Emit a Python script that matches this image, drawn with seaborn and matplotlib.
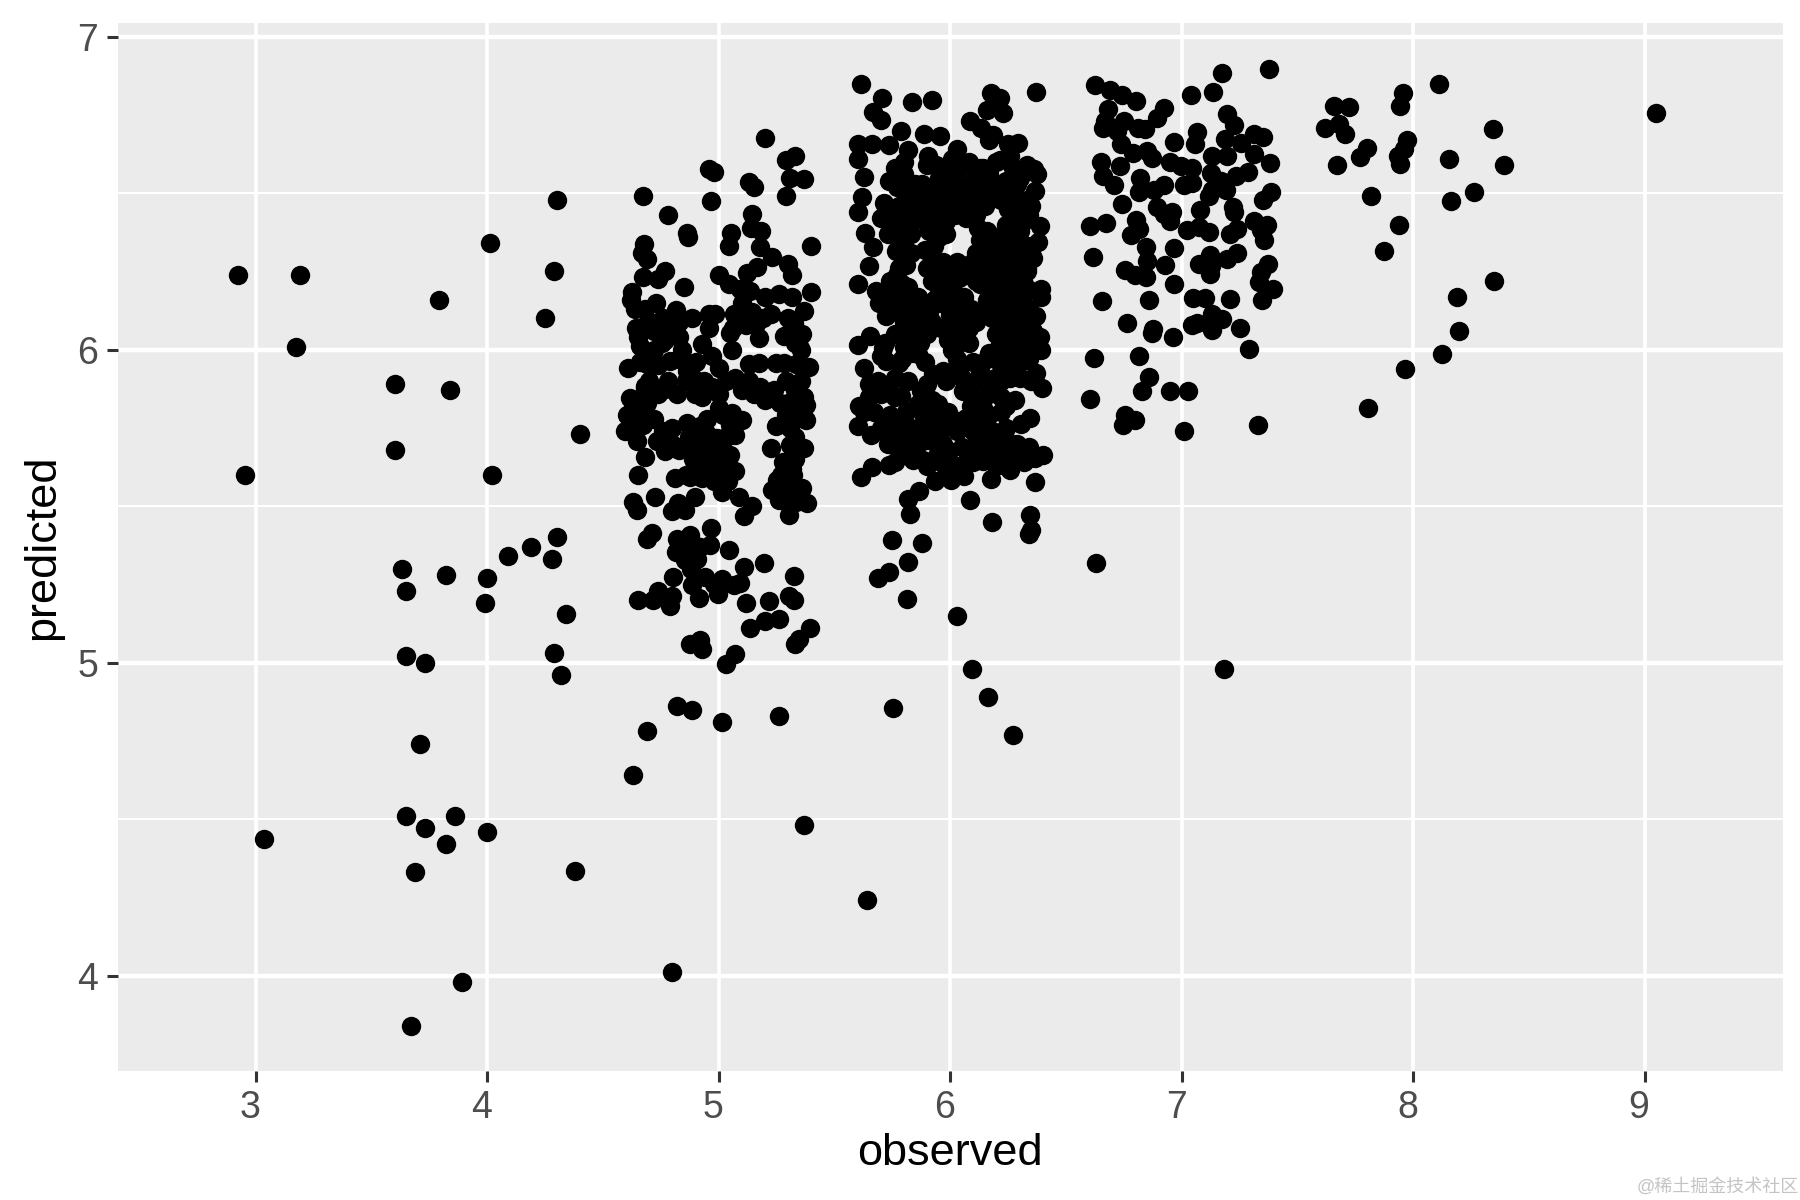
import matplotlib
matplotlib.use("Agg")
import matplotlib.pyplot as plt
import matplotlib.transforms as mtrans
import pandas as pd
import seaborn as sns

obs_low = [2.925, 3.19, 3.175, 2.955, 3.035, 3.60, 3.60, 3.79, 3.84, 3.63, 3.65, 3.82, 3.65, 3.73,
           3.71, 3.65, 3.73, 3.82, 3.86, 3.69, 3.89, 3.67, 4.01, 4.30, 4.29, 4.25, 4.02, 4.40,
           4.30, 4.19, 4.09, 4.28, 4.00, 3.99, 4.34, 4.29, 4.32, 4.00, 4.38]
pred_low = [6.24, 6.24, 6.01, 5.60, 4.435, 5.89, 5.68, 6.16, 5.87, 5.30, 5.23, 5.28, 5.02, 5.00,
            4.74, 4.51, 4.47, 4.42, 4.51, 4.33, 3.98, 3.84, 6.34, 6.48, 6.25, 6.10, 5.60, 5.73,
            5.40, 5.37, 5.34, 5.33, 5.27, 5.19, 5.155, 5.03, 4.96, 4.46, 4.335]

obs_stray = [4.80, 4.63, 4.69, 4.82, 4.885, 5.015, 5.26, 5.37, 5.64, 5.755, 6.03, 6.095, 6.165, 6.27, 7.185, 6.63]
pred_stray = [4.01, 4.64, 4.78, 4.86, 4.85, 4.81, 4.83, 4.48, 4.24, 4.855, 5.15, 4.98, 4.89, 4.77, 4.98, 5.32]

obs_five = [5.20, 5.33, 5.29, 5.31, 5.37, 5.29, 4.675, 4.78, 4.863, 4.867, 4.957, 4.978, 4.968, 5.13, 5.152,
            5.142, 5.14, 5.185, 5.055, 5.043, 5.397, 5.18, 5.23, 5.30, 5.318, 5.166, 5.123, 4.678, 4.67, 4.69,
            4.675, 4.77, 4.74, 4.851, 4.624, 4.62, 4.64, 4.73, 5.003, 5.043, 5.094, 5.137, 5.2, 5.26, 5.318,
            5.397, 5.37, 4.815, 4.884, 4.957, 4.986, 5.065, 5.145, 5.224, 5.325, 4.645, 4.695, 4.79, 4.96, 5.05,
            5.16, 5.173, 5.282, 4.66, 4.754, 4.84, 4.928, 4.97, 5.058, 5.347, 5.354, 5.39, 4.61, 4.69, 4.863,
            4.79, 5.13, 5.173, 5.246, 5.282, 5.332, 4.935, 5.0, 5.072, 4.68, 4.78, 5.354,
            4.682, 4.769, 4.899, 4.617, 4.603, 4.668, 4.595, 4.675, 4.646, 4.682, 4.65, 4.733, 4.769, 4.827, 4.798,
            4.863, 4.92, 5.0, 5.058, 4.928, 4.884, 4.993, 5.072, 5.10, 5.152, 5.2, 5.267, 5.376, 5.376, 5.246,
            5.31, 5.227, 5.31, 5.368, 5.318, 5.05, 5.014, 5.072, 4.928, 4.971, 4.899, 5.014, 4.928, 4.812, 4.877,
            5.014, 5.087, 5.145, 5.108, 5.253, 5.231, 5.282, 5.361, 5.332, 5.383, 5.306, 4.896, 4.725, 4.63, 4.649,
            4.824, 4.80, 4.855, 4.71, 4.69, 4.967, 4.877, 4.964, 4.819, 4.815, 4.92, 4.855, 4.906, 5.046, 5.108,
            5.194, 5.325, 4.802, 4.884, 4.939, 4.978, 5.014, 5.065, 5.094, 4.996, 4.916, 5.118, 5.217, 5.306, 5.325,
            4.737, 4.65, 4.715, 4.80, 4.79, 5.2, 5.26, 5.134, 5.393, 5.347, 5.33, 4.877, 4.92, 4.928, 5.072, 5.03]
pred_five = [6.677, 6.62, 6.607, 6.55, 6.544, 6.49, 6.49, 6.43, 6.372, 6.36, 6.578, 6.567, 6.474, 6.537, 6.52,
             6.434, 6.39, 6.378, 6.372, 6.33, 6.33, 6.327, 6.295, 6.273, 6.24, 6.265, 6.244, 6.338, 6.31, 6.29,
             6.233, 6.252, 6.225, 6.2, 6.186, 6.16, 6.13, 6.15, 6.24, 6.21, 6.193, 6.188, 6.167, 6.177, 6.167,
             6.186, 6.124, 6.126, 6.1, 6.113, 6.113, 6.113, 6.119, 6.113, 6.087, 6.07, 6.092, 6.07, 6.07, 6.054,
             6.081, 6.036, 6.044, 6.012, 6.022, 6.0, 6.017, 5.98, 6.0, 6.012, 6.0, 5.946, 5.942, 5.953, 5.932,
             5.964, 5.953, 5.958, 5.958, 5.958, 5.953, 5.90, 5.942, 5.91, 5.883, 5.90, 5.90,
             5.878, 5.873, 5.857, 5.846, 5.792, 5.814, 5.739, 5.76, 5.707, 5.658, 5.60, 5.707, 5.675, 5.68, 5.75,
             5.766, 5.755, 5.814, 5.798, 5.712, 5.717, 5.717, 5.728, 5.776, 5.857, 5.84, 5.83, 5.824, 5.776, 5.755,
             5.75, 5.685, 5.696, 5.685, 5.62, 5.664, 5.685, 5.612, 5.675, 5.648, 5.632, 5.61, 5.589, 5.591, 5.594,
             5.546, 5.53, 5.5, 5.47, 5.584, 5.551, 5.53, 5.557, 5.514, 5.509, 5.473, 5.53, 5.528, 5.512, 5.489,
             5.509, 5.484, 5.487, 5.415, 5.396, 5.431, 5.407, 5.375, 5.396, 5.353, 5.37, 5.327, 5.332, 5.359, 5.305,
             5.318, 5.278, 5.273, 5.249, 5.273, 5.252, 5.268, 5.248, 5.255, 5.22, 5.206, 5.19, 5.196, 5.212, 5.2,
             5.23, 5.20, 5.20, 5.212, 5.18, 5.134, 5.141, 5.11, 5.11, 5.075, 5.059, 5.059, 5.073, 5.043, 5.027, 4.995]

# points hidden inside the dense block of the five strip, estimated
obs_five_fill = [4.72, 4.77, 4.83, 4.70, 4.74, 4.83, 4.90, 4.66, 4.65, 4.72, 4.86,
                 4.74, 4.82, 4.89, 4.97, 5.03, 5.10, 5.13, 5.18, 5.24, 5.29, 5.33, 5.37, 5.30, 4.93, 5.0,
                 4.87, 4.91, 4.95, 4.95, 4.89, 4.95, 4.98, 5.03, 5.03, 4.86, 4.93, 4.98, 5.04, 5.05, 5.02, 4.76, 4.80, 4.86,
                 5.33, 5.33, 5.33, 5.27, 5.30, 5.26, 5.35, 5.29, 5.32, 5.28,
                 4.62, 4.66, 4.69, 4.66, 4.72,
                 5.10, 5.19, 5.12, 5.06, 4.83, 4.76, 4.75, 4.68, 5.30, 5.33, 5.36, 5.30,
                 4.88, 4.84, 4.86, 4.90, 4.89]
pred_five_fill = [6.00, 6.03, 6.04, 5.90, 5.95, 5.97, 5.96, 5.96, 6.04, 6.06, 5.90,
                  5.86, 5.86, 5.91, 5.88, 5.90, 5.87, 5.90, 5.88, 5.87, 5.90, 5.87, 5.85, 5.83, 5.85, 5.86,
                  5.72, 5.68, 5.73, 5.78, 5.65, 5.62, 5.68, 5.64, 5.72, 5.60, 5.62, 5.58, 5.58, 5.76, 5.79, 5.74, 5.70, 5.69,
                  5.65, 5.72, 5.78, 5.60, 5.55, 5.52, 5.80, 5.79, 5.60, 5.64,
                  5.80, 5.76, 5.83, 5.84, 5.78,
                  6.15, 6.10, 6.08, 6.07, 6.09, 6.10, 6.05, 6.13, 6.05, 6.02, 6.05, 6.10,
                  5.30, 5.37, 5.36, 5.35, 5.38]

obs_six_top = [5.617, 5.705, 5.665, 5.70, 5.834, 5.92, 5.788, 5.886, 5.957, 6.175, 6.217, 6.159, 6.228, 6.084, 6.134,
               6.185, 6.17, 6.293, 6.25, 6.257, 6.214, 6.03, 5.903, 6.373, 6.363, 6.377, 6.366, 6.34, 6.387, 6.38,
               6.358, 6.33, 6.394, 6.394, 6.373, 6.387, 6.394, 6.35, 5.60, 5.662, 5.60, 5.737, 5.816, 5.629, 5.737,
               5.618, 5.60, 5.715, 5.633, 5.665, 5.766, 5.65, 5.60, 5.68, 5.694, 5.722, 5.655, 5.60, 5.71]
pred_six_top = [6.85, 6.806, 6.76, 6.733, 6.793, 6.798, 6.70, 6.688, 6.682, 6.821, 6.806, 6.766, 6.758, 6.731, 6.707,
                6.685, 6.67, 6.66, 6.658, 6.62, 6.605, 6.642, 6.62, 6.824, 6.578, 6.562, 6.508, 6.466, 6.396, 6.343,
                6.294, 6.25, 6.193, 6.17, 6.107, 6.04, 6.0, 5.995, 6.658, 6.658, 6.61, 6.653, 6.637, 6.551, 6.54,
                6.487, 6.44, 6.47, 6.372, 6.327, 6.316, 6.268, 6.209, 6.187, 6.15, 6.107, 6.043, 6.016, 6.005]

obs_six_mid = [5.80, 5.94, 6.01, 6.08, 6.14,
               5.80, 5.88, 5.95, 6.03, 6.10, 6.17, 6.24, 6.30,
               5.83, 5.90, 5.98, 6.05, 6.12, 6.19, 6.27, 6.33,
               5.78, 5.85, 5.92, 5.99, 6.06, 6.11, 6.25, 6.31,
               5.70, 5.77, 5.84, 5.91, 5.98, 6.07, 6.12, 6.24, 6.32,
               5.73, 5.80, 5.95, 6.13, 6.19, 6.26, 6.33,
               5.83, 5.92, 5.97, 6.05, 6.10, 6.19, 6.25, 6.30,
               5.77, 5.93, 6.00, 6.07, 6.14, 6.20, 6.27,
               5.75, 5.82, 5.95, 6.01, 6.13, 6.20, 6.29, 6.34,
               5.76, 5.83, 5.89, 5.96, 6.03, 6.09, 6.19, 6.28, 6.34,
               5.80, 5.87, 5.92, 6.05, 6.11, 6.18, 6.25, 6.31,
               5.76, 5.84, 5.90, 5.99, 6.05, 6.20, 6.27, 6.33,
               5.70, 5.83, 6.01, 6.17, 6.24, 6.31]
pred_six_mid = [6.60, 6.59, 6.61, 6.60, 6.58,
                6.56, 6.53, 6.55, 6.57, 6.54, 6.56, 6.54, 6.55,
                6.49, 6.51, 6.50, 6.52, 6.49, 6.50, 6.51, 6.48,
                6.46, 6.44, 6.46, 6.45, 6.47, 6.43, 6.45, 6.44,
                6.42, 6.40, 6.41, 6.39, 6.41, 6.42, 6.39, 6.40, 6.41,
                6.37, 6.35, 6.36, 6.35, 6.36, 6.34, 6.33,
                6.31, 6.29, 6.28, 6.27, 6.28, 6.30, 6.28, 6.30,
                6.24, 6.23, 6.25, 6.24, 6.23, 6.24, 6.22,
                6.19, 6.20, 6.19, 6.20, 6.21, 6.19, 6.20, 6.19,
                6.15, 6.14, 6.13, 6.15, 6.14, 6.13, 6.14, 6.15, 6.13,
                6.09, 6.10, 6.09, 6.10, 6.09, 6.10, 6.09, 6.08,
                6.05, 6.04, 6.05, 6.03, 6.04, 6.05, 6.04, 6.05,
                5.98, 5.99, 6.00, 5.99, 5.98, 5.99]

# second pass over the six strip, the block is almost solid black there
obs_six_fill = [5.76, 5.90, 5.99, 6.06, 6.13, 6.20, 6.27, 6.33,
                5.77, 5.85, 5.92, 6.00, 6.07, 6.15, 6.21, 6.29,
                5.80, 5.87, 5.95, 6.02, 6.09, 6.15, 6.22, 6.29, 6.35,
                5.74, 5.81, 5.88, 5.95, 6.02, 6.09, 6.27, 6.34,
                5.76, 5.83, 5.91, 5.98, 6.16, 6.23, 6.30,
                5.80, 5.89, 5.93, 6.11, 6.16, 6.22, 6.28, 6.35,
                5.78, 5.81, 5.90, 5.96, 6.03, 6.09, 6.17, 6.23, 6.29, 6.33,
                5.74, 5.79, 5.92, 5.98, 6.04, 6.11, 6.17, 6.24, 6.32,
                5.73, 5.79, 5.86, 5.93, 5.99, 6.06, 6.16, 6.25, 6.31,
                5.77, 5.85, 5.91, 6.00, 6.07, 6.14, 6.21, 6.28,
                5.82, 5.88, 5.96, 6.02, 6.08, 6.22, 6.30, 6.36,
                5.72, 5.80, 5.87, 6.02, 6.08, 6.21, 6.28,
                5.79, 5.89, 6.03, 6.10, 6.16, 6.27, 6.34,
                5.69, 5.76, 5.82, 5.90, 5.98, 6.05, 6.11, 6.16, 6.22, 6.30, 6.35,
                5.65, 5.70, 5.76, 5.92, 6.10, 6.17, 6.22, 6.28,
                5.67, 5.74, 5.81, 5.92, 5.99, 6.17, 6.22,
                5.70, 5.78, 5.83, 5.90, 5.97, 6.03, 6.12, 6.18, 6.24,
                5.73, 5.77, 5.86, 5.90, 5.97, 6.05, 6.11, 6.24, 6.29, 6.34,
                5.76, 5.90, 5.96, 6.03, 6.10, 6.20, 6.32]
pred_six_fill = [6.58, 6.59, 6.57, 6.59, 6.58, 6.60, 6.58, 6.59,
                 6.52, 6.53, 6.52, 6.54, 6.52, 6.53, 6.52, 6.53,
                 6.47, 6.48, 6.47, 6.49, 6.48, 6.46, 6.48, 6.47, 6.46,
                 6.43, 6.42, 6.43, 6.42, 6.43, 6.44, 6.42, 6.43,
                 6.38, 6.37, 6.38, 6.37, 6.38, 6.37, 6.38,
                 6.33, 6.32, 6.33, 6.31, 6.33, 6.32, 6.33, 6.32,
                 6.26, 6.27, 6.26, 6.27, 6.28, 6.26, 6.27, 6.26, 6.27, 6.26,
                 6.22, 6.21, 6.22, 6.21, 6.23, 6.22, 6.21, 6.22, 6.21,
                 6.17, 6.16, 6.17, 6.16, 6.18, 6.17, 6.16, 6.17, 6.16,
                 6.12, 6.11, 6.12, 6.11, 6.12, 6.11, 6.12, 6.11,
                 6.07, 6.06, 6.07, 6.06, 6.07, 6.06, 6.07, 6.06,
                 6.02, 6.01, 6.02, 6.01, 6.02, 6.01, 6.02,
                 5.97, 5.96, 5.97, 5.96, 5.97, 5.96, 5.97,
                 5.90, 5.91, 5.90, 5.89, 5.90, 5.91, 5.90, 5.89, 5.90, 5.91, 5.90,
                 5.85, 5.86, 5.85, 5.84, 5.85, 5.86, 5.85, 5.84,
                 5.80, 5.79, 5.80, 5.79, 5.80, 5.79, 5.80,
                 5.75, 5.74, 5.75, 5.74, 5.75, 5.74, 5.75, 5.74, 5.75,
                 5.70, 5.69, 5.70, 5.71, 5.70, 5.69, 5.70, 5.71, 5.70, 5.69,
                 5.64, 5.63, 5.64, 5.63, 5.64, 5.63, 5.64]

obs_six_low = [5.629, 5.723, 5.78, 5.65, 5.723, 5.788, 5.607, 5.629, 5.603, 5.658, 5.723, 5.78, 5.874, 5.918, 5.882,
               5.86, 5.939, 5.83, 5.795, 5.838, 5.882, 5.946, 5.997, 5.98, 5.936, 6.004, 6.062, 5.737, 5.662, 5.614,
               5.867, 5.82, 5.827, 5.751, 5.879, 5.818, 5.734, 5.688, 5.814, 6.084, 6.18, 6.344, 6.351, 6.34, 6.24,
               6.344, 6.308, 6.366, 6.40, 6.366, 6.178, 6.207, 6.156, 6.272, 6.30, 6.257, 6.228, 6.077, 6.142, 6.142,
               6.098, 6.033, 6.055, 6.395, 6.373, 6.315, 6.257, 6.192, 6.127, 5.968, 6.04, 5.925, 6.214, 5.86, 6.105,
               6.09, 6.07, 5.954, 6.178, 6.214, 5.76, 5.86, 5.947]
pred_six_low = [5.942, 5.964, 5.958, 5.889, 5.884, 5.852, 5.82, 5.80, 5.756, 5.729, 5.735, 5.756, 5.868, 5.825, 5.793,
                5.745, 5.729, 5.708, 5.67, 5.649, 5.649, 5.67, 5.676, 5.623, 5.582, 5.585, 5.596, 5.631, 5.625, 5.594,
                5.548, 5.524, 5.475, 5.392, 5.383, 5.322, 5.29, 5.269, 5.204, 5.52, 5.451, 5.473, 5.425, 5.41, 5.82,
                5.783, 5.763, 5.578, 5.662, 5.655, 5.588, 5.724, 5.703, 5.676, 5.66, 5.617, 5.633, 5.655, 5.644, 5.815,
                5.74, 5.772, 5.868, 5.878, 5.926, 5.964, 5.91, 5.91, 5.932, 5.932, 5.932, 5.921, 5.958, 5.985, 5.793,
                5.82, 5.783, 5.788, 5.665, 5.686, 5.777, 5.825, 5.825]

obs_seven = [6.624, 6.69, 6.743, 6.805, 6.68, 6.923, 6.895, 6.75, 6.67, 6.66, 6.72, 6.81, 6.84, 6.74, 6.79, 6.85, 6.87,
             6.65, 6.735, 6.66, 6.71, 6.82, 6.815, 6.923, 6.88, 6.743, 6.95, 6.996, 7.046, 6.967, 7.068, 7.06, 7.042,
             7.136, 7.176, 7.377, 7.195, 7.227, 7.188, 7.195, 7.133, 7.256, 7.314, 7.35, 7.314, 7.383, 7.285, 7.237,
             7.126, 7.17, 7.01, 7.046, 7.133, 7.19, 7.118, 7.386, 7.353, 7.08, 7.22, 7.227, 6.894, 6.96, 6.923, 6.95,
             6.805, 6.815, 6.78, 6.675, 6.603, 7.025, 7.075, 7.118, 7.208, 7.24, 7.314, 7.371, 7.342, 7.354, 6.847,
             6.967, 6.616, 6.85, 6.93, 6.754, 6.80, 6.845, 6.967, 7.075, 7.123, 7.126, 7.122, 7.198, 7.24, 7.374, 7.342,
             7.335, 7.397, 7.347, 6.655, 6.858, 7.05, 7.10, 7.208, 6.764, 6.876, 6.873, 6.964, 7.046, 7.068, 7.133,
             7.176, 7.13, 7.251, 7.293, 6.62, 6.815, 6.861, 6.829, 6.952, 7.027, 6.605, 6.754, 6.797, 6.745, 7.01, 7.33]
pred_seven = [6.847, 6.83, 6.814, 6.796, 6.77, 6.774, 6.742, 6.73, 6.73, 6.71, 6.70, 6.71, 6.706, 6.656, 6.63, 6.634, 6.613,
              6.60, 6.586, 6.556, 6.527, 6.548, 6.505, 6.527, 6.51, 6.466, 6.60, 6.586, 6.58, 6.663, 6.696, 6.656, 6.815,
              6.825, 6.883, 6.898, 6.753, 6.717, 6.674, 6.618, 6.618, 6.661, 6.688, 6.68, 6.624, 6.597, 6.567, 6.556,
              6.565, 6.538, 6.527, 6.532, 6.51, 6.51, 6.49, 6.505, 6.48, 6.446, 6.457, 6.44, 6.457, 6.44, 6.435, 6.41,
              6.414, 6.387, 6.366, 6.405, 6.396, 6.382, 6.392, 6.376, 6.37, 6.387, 6.41, 6.40, 6.382, 6.35, 6.328,
              6.326, 6.296, 6.285, 6.27, 6.256, 6.24, 6.234, 6.21, 6.274, 6.304, 6.269, 6.242, 6.29, 6.31, 6.274, 6.247,
              6.218, 6.194, 6.16, 6.155, 6.16, 6.165, 6.165, 6.163, 6.086, 6.065, 6.054, 6.04, 6.08, 6.086, 6.115,
              6.097, 6.062, 6.068, 6.002, 5.973, 5.98, 5.914, 5.868, 5.868, 5.868, 5.844, 5.79, 5.774, 5.76, 5.74, 5.758]

obs_high = [7.62, 7.66, 7.725, 7.68, 7.705, 7.67, 7.77, 7.80, 7.82, 7.945, 7.955, 7.975, 7.96, 7.935, 7.945, 8.11, 8.155,
            8.345, 8.395, 8.265, 8.165, 7.94, 7.875, 8.35, 8.19, 8.2, 8.125, 7.965, 7.805, 9.05]
pred_high = [6.71, 6.78, 6.775, 6.72, 6.69, 6.59, 6.615, 6.645, 6.49, 6.78, 6.82, 6.67, 6.64, 6.62, 6.595, 6.85, 6.61,
             6.705, 6.59, 6.505, 6.475, 6.40, 6.315, 6.22, 6.17, 6.06, 5.985, 5.94, 5.815, 6.755]

x_ticks = [3, 4, 5, 6, 7, 8, 9]
y_ticks = [4, 5, 6, 7]
y_minor = [4.5, 5.5, 6.5]

df = pd.DataFrame({
    "observed": obs_low + obs_stray + obs_five + obs_five_fill + obs_six_top + obs_six_mid + obs_six_fill
                + obs_six_low + obs_seven + obs_high,
    "predicted": pred_low + pred_stray + pred_five + pred_five_fill + pred_six_top + pred_six_mid + pred_six_fill
                 + pred_six_low + pred_seven + pred_high,
})

sns.set_theme(style="darkgrid", rc={"axes.facecolor": "#EBEBEB", "grid.color": "white", "axes.linewidth": 0})
plt.rcParams["font.family"] = ["Liberation Sans", "Noto Sans CJK SC", "DejaVu Sans"]

fig, ax = plt.subplots(figsize=(18, 12), dpi=100)
fig.subplots_adjust(left=0.0653, right=0.9904, top=0.9808, bottom=0.1075)

sns.scatterplot(data=df, x="observed", y="predicted", color="black", s=195, linewidth=0, ax=ax, zorder=3)

ax.set_xlim(2.403, 9.597)
ax.set_ylim(3.695, 7.044)
ax.set_xticks(x_ticks)
ax.set_yticks(y_ticks)
ax.set_yticks(y_minor, minor=True)
ax.grid(True, which="major", axis="y", color="white", linewidth=3.2)
ax.grid(True, which="major", axis="x", color="white", linewidth=2.6)
ax.grid(True, which="minor", axis="y", color="white", linewidth=1.5)
ax.tick_params(axis="both", which="major", length=8, width=2.2, color="#333333",
               labelcolor="#4D4D4D", labelsize=27, bottom=True, left=True, pad=6)
ax.tick_params(axis="y", which="minor", length=0)
ax.set_axisbelow(True)

# x tick labels sit a little left of their ticks in the original
shift = mtrans.ScaledTranslation(-4 / 72, 0, fig.dpi_scale_trans)
for lab in ax.get_xticklabels():
    lab.set_transform(lab.get_transform() + shift)

ax.set_xlabel("observed", fontsize=32.5, color="black", labelpad=5)
ax.set_ylabel("predicted", fontsize=32.5, color="black", labelpad=10)

fig.text(0.9995, 0.0105, "@稀土掘金技术社区", ha="right", va="center", fontsize=13, color="#C4C4C4")

fig.savefig("out.png", dpi=100)
print(len(df))
